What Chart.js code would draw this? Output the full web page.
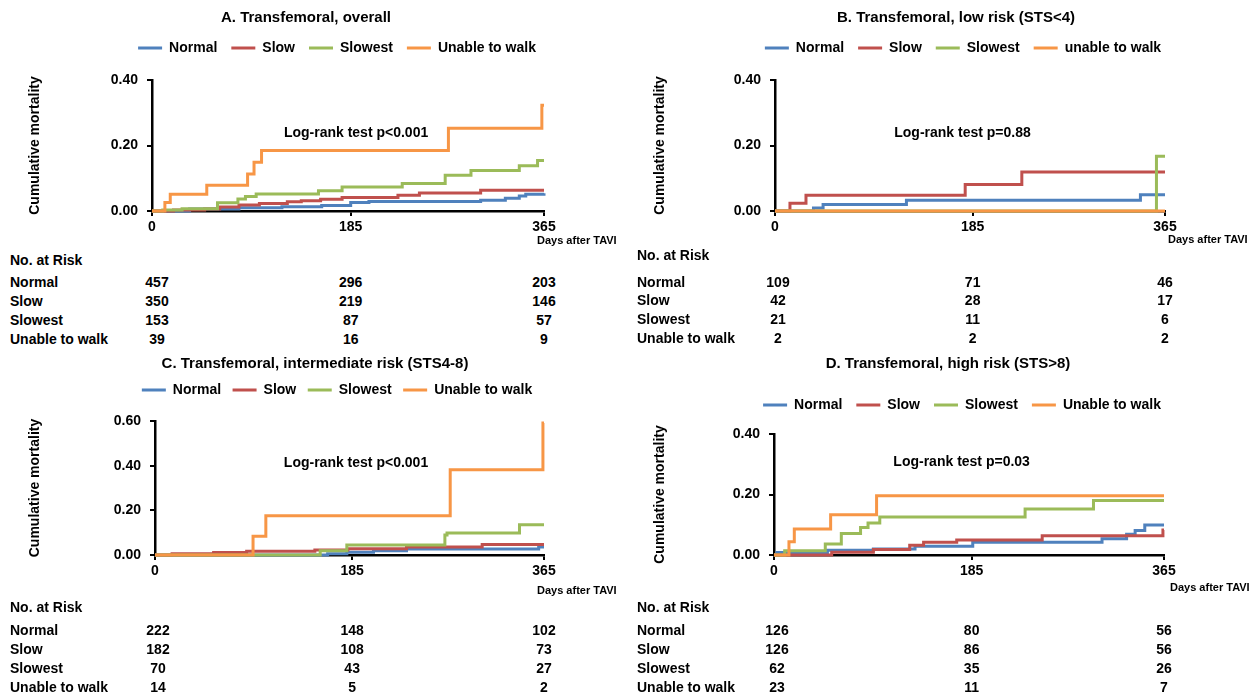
<!DOCTYPE html>
<html><head><meta charset="utf-8">
<script src="https://cdn.jsdelivr.net/npm/chart.js@4.4.1/dist/chart.umd.min.js"></script>
<style>
html,body{margin:0;padding:0;background:#fff;overflow:hidden;width:1255px;height:698px;}
#wrap{position:relative;width:1255px;height:698px;overflow:hidden;}
canvas{position:absolute;}
.t{position:absolute;font-family:"Liberation Sans",Arial,sans-serif;font-weight:bold;color:#000;white-space:nowrap;line-height:1;}
</style></head><body><div id="wrap"></div>
<script>
// ---------- DATA ----------
const xTickValues = [0, 185, 365];
const yTicksLow = [0, 0.2, 0.4];
const yTicksHigh = [0, 0.2, 0.4, 0.6];
const groupNames = ['Normal', 'Slow', 'Slowest', 'Unable to walk'];
const groupNamesB = ['Normal', 'Slow', 'Slowest', 'unable to walk'];

// Panel A: Transfemoral, overall (days after TAVI, cumulative mortality)
const A_normal_days  = [0, 35, 81, 121, 158, 185, 202, 306, 329, 342, 348, 365];
const A_normal_cm    = [0, 0.006, 0.010, 0.013, 0.017, 0.026, 0.029, 0.033, 0.039, 0.046, 0.051, 0.054];
const A_slow_days    = [0, 20, 49, 63, 81, 100, 126, 139, 157, 177, 229, 249, 306, 365];
const A_slow_cm      = [0, 0.003, 0.006, 0.012, 0.018, 0.023, 0.028, 0.031, 0.036, 0.041, 0.048, 0.055, 0.063, 0.063];
const A_slowest_days = [0, 10, 28, 61, 80, 87, 97, 155, 177, 233, 273, 297, 342, 359, 365];
const A_slowest_cm   = [0, 0.003, 0.007, 0.025, 0.037, 0.044, 0.052, 0.062, 0.073, 0.084, 0.109, 0.124, 0.138, 0.154, 0.154];
const A_unable_days  = [0, 12, 17, 51, 89, 95, 102, 276, 363, 365];
const A_unable_cm    = [0, 0.026, 0.051, 0.079, 0.113, 0.149, 0.185, 0.253, 0.323, 0.323];

// Panel B: low risk (STS<4)
const B_normal_days  = [0, 36, 45, 123, 342, 365];
const B_normal_cm    = [0, 0.009, 0.020, 0.033, 0.050, 0.050];
const B_slow_days    = [0, 14, 29, 178, 231, 365];
const B_slow_cm      = [0, 0.024, 0.048, 0.081, 0.119, 0.119];
const B_slowest_days = [0, 357, 365];
const B_slowest_cm   = [0, 0.167, 0.167];
const B_unable_days  = [0, 365];
const B_unable_cm    = [0, 0];

// Panel C: intermediate risk (STS4-8)
const C_normal_days  = [0, 162, 180, 205, 236, 360, 365];
const C_normal_cm    = [0, 0.006, 0.012, 0.019, 0.027, 0.036, 0.036];
const C_slow_days    = [0, 16, 55, 86, 150, 181, 236, 307, 365];
const C_slow_cm      = [0, 0.006, 0.011, 0.017, 0.022, 0.028, 0.036, 0.047, 0.047];
const C_slowest_days = [0, 155, 180, 272, 274, 342, 365];
const C_slowest_cm   = [0, 0.019, 0.045, 0.090, 0.099, 0.136, 0.136];
const C_unable_days  = [0, 92, 104, 277, 364, 365];
const C_unable_cm    = [0, 0.084, 0.176, 0.382, 0.591, 0.591];

// Panel D: high risk (STS>8)
const D_normal_days  = [0, 3, 50, 93, 132, 186, 307, 330, 338, 347, 365];
const D_normal_cm    = [0, 0.008, 0.016, 0.020, 0.029, 0.042, 0.054, 0.069, 0.081, 0.099, 0.099];
const D_slow_days    = [0, 54, 93, 127, 140, 171, 251, 364, 365];
const D_slow_cm      = [0, 0.009, 0.018, 0.032, 0.042, 0.050, 0.064, 0.083, 0.083];
const D_slowest_days = [0, 10, 48, 63, 81, 88, 99, 235, 299, 365];
const D_slowest_cm   = [0, 0.014, 0.036, 0.071, 0.091, 0.106, 0.126, 0.152, 0.180, 0.180];
const D_unable_days  = [0, 14, 19, 53, 96, 365];
const D_unable_cm    = [0, 0.044, 0.086, 0.133, 0.196, 0.196];

// Numbers at risk (rows: Normal, Slow, Slowest, Unable to walk; columns: day 0, 185, 365)
const riskA = [[457, 296, 203], [350, 219, 146], [153, 87, 57], [39, 16, 9]];
const riskB = [[109, 71, 46], [42, 28, 17], [21, 11, 6], [2, 2, 2]];
const riskC = [[222, 148, 102], [182, 108, 73], [70, 43, 27], [14, 5, 2]];
const riskD = [[126, 80, 56], [126, 86, 56], [62, 35, 26], [23, 11, 7]];

// ---------- STYLE / LAYOUT ----------
const FONT = '"Liberation Sans", Arial, sans-serif';
const COLORS = ['#4F81BD', '#C0504D', '#9BBB59', '#F79646'];
const wrap = document.getElementById('wrap');

function addText(text, x, y, size, align) {
  const d = document.createElement('div');
  d.className = 't';
  d.textContent = text;
  d.style.fontSize = size + 'px';
  d.style.top = (y - size / 2) + 'px';
  d.style.left = x + 'px';
  if (align === 'center') d.style.transform = 'translateX(-50%)';
  wrap.appendChild(d);
}

function makePanel(P) {
  const cv = document.createElement('canvas');
  cv.width = P.w; cv.height = P.h;
  cv.style.left = P.x + 'px'; cv.style.top = P.y + 'px';
  wrap.appendChild(cv);
  const titleCenter = P.titleY - P.y;
  const padTop = titleCenter - 7.5;
  const legP = P.legendPad;
  const tb = Math.max(0, (P.legendY - P.titleY) - 14.5 - legP);
  const sp = Math.max(0, P.chartTop - P.legendY - 17);
  const rightGap = P.w - (P.chartRight - P.x);
  const legendDx = P.legendCX - (P.x + P.w / 2);

  const datasets = P.series.map((s, i) => ({
    label: P.labels[i],
    data: s[0].map((d, k) => ({x: d, y: s[1][k]})),
    borderColor: COLORS[i], backgroundColor: COLORS[i],
    borderWidth: 3, pointRadius: 0, pointHoverRadius: 0,
    stepped: true, fill: false, clip: false, order: 3 - i,
    xAxisID: 'x', yAxisID: 'y'
  }));

  const extras = {
    id: 'extras' + P.name,
    afterLayout(chart) {
      const lg = chart.legend;
      if (lg) { lg.left += legendDx; lg.right += legendDx; }
    },
    afterDatasetsDraw(chart) {
      const ctx = chart.ctx, xs = chart.scales.x, ys = chart.scales.y;
      ctx.save();
      ctx.fillStyle = '#000';
      ctx.textBaseline = 'middle';
      ctx.font = 'bold 14px ' + FONT;
      ctx.textAlign = 'center';
      ctx.fillText(P.note, xs.getPixelForValue(P.noteAt[0]), ys.getPixelForValue(P.noteAt[1]));
      ctx.font = 'bold 11px ' + FONT;
      ctx.textAlign = 'left';
      ctx.fillText('Days after TAVI', xs.getPixelForValue(365) + P.daysDx, P.daysY - P.y);
      ctx.restore();
    }
  };

  const chart = new Chart(cv, {
    type: 'line',
    data: {datasets},
    options: {
      responsive: false, animation: false, devicePixelRatio: 1,
      events: [],
      layout: {padding: 0},
      plugins: {
        title: {display: true, text: P.title, color: '#000',
          font: {family: FONT, size: 15, weight: 'bold', lineHeight: 1},
          padding: {top: padTop, bottom: tb}},
        legend: {display: true, position: 'top', fullSize: true, align: 'center',
          labels: {usePointStyle: true, pointStyle: 'line', pointStyleWidth: 24, color: '#000',
            font: {family: FONT, size: 14, weight: 'bold'}, padding: legP,
            sort: (a, b) => a.datasetIndex - b.datasetIndex}},
        tooltip: {enabled: false}
      },
      scales: {
        x: {type: 'linear', position: 'bottom', min: 0, max: 365,
          afterBuildTicks: sc => { sc.ticks = xTickValues.map(v => ({value: v})); },
          afterFit: sc => { sc.height = P.h - (P.chartBottom - P.y); },
          grid: {display: true, drawOnChartArea: false, drawTicks: true, tickLength: 5, color: '#000', lineWidth: 2},
          border: {display: true, color: '#000', width: 2.5},
          ticks: {color: '#000', font: {family: FONT, size: 14, weight: 'bold'}, padding: 3,
            maxRotation: 0, autoSkip: false, callback: v => String(v)}},
        spacerTop: {type: 'linear', axis: 'x', position: 'top', display: true,
          grid: {display: false}, border: {display: false}, ticks: {display: false},
          afterFit: sc => { sc.height = sp; }},
        spacerRight: {type: 'linear', axis: 'y', position: 'right', display: true,
          grid: {display: false}, border: {display: false}, ticks: {display: false},
          afterFit: sc => { sc.width = rightGap; }},
        y: {type: 'linear', position: 'left', min: 0, max: P.yTicks[P.yTicks.length - 1],
          afterBuildTicks: sc => { sc.ticks = P.yTicks.map(v => ({value: v})); },
          afterFit: sc => { sc.width = P.chartLeft - P.x; },
          grid: {display: true, drawOnChartArea: false, drawTicks: true, tickLength: 5, color: '#000', lineWidth: 2},
          border: {display: true, color: '#000', width: 2.5},
          ticks: {color: '#000', font: {family: FONT, size: 14, weight: 'bold'}, padding: 9,
            callback: v => Number(v).toFixed(2)},
          title: {display: true, text: 'Cumulative mortality', color: '#000',
            font: {family: FONT, size: 14, weight: 'bold', lineHeight: 1.2},
            padding: {top: P.yTitleX - P.x - 8.4, bottom: 0}}}
      }
    },
    plugins: [extras]
  });

  // number-at-risk table
  const T = P.table;
  addText('No. at Risk', T.x, T.headY, 14, 'left');
  T.rowY.forEach((ry, r) => {
    addText(groupNames[r], T.x, ry, 14, 'left');
    xTickValues.forEach((v, c) => {
      const px = P.x + chart.scales.x.getPixelForValue(v) + T.colDx[c];
      addText(String(P.risk[r][c]), px, ry, 14, 'center');
    });
  });
}

const panels = [
  {name: 'A', title: 'A. Transfemoral, overall', labels: groupNames,
   series: [[A_normal_days, A_normal_cm], [A_slow_days, A_slow_cm], [A_slowest_days, A_slowest_cm], [A_unable_days, A_unable_cm]],
   risk: riskA, yTicks: yTicksLow, note: 'Log-rank test p<0.001', noteAt: [190, 0.237],
   x: -30, y: 0, w: 672, h: 250, chartLeft: 152, chartRight: 544, chartTop: 80, chartBottom: 211,
   titleY: 18, legendY: 48, legendPad: 14, legendCX: 337, yTitleX: 35, daysY: 241, daysDx: -7,
   table: {x: 10, headY: 260, rowY: [282, 301, 320, 339], colDx: [5, 0, 0]}},
  {name: 'B', title: 'B. Transfemoral, low risk (STS<4)', labels: groupNamesB,
   series: [[B_normal_days, B_normal_cm], [B_slow_days, B_slow_cm], [B_slowest_days, B_slowest_cm], [B_unable_days, B_unable_cm]],
   risk: riskB, yTicks: yTicksLow, note: 'Log-rank test p=0.88', noteAt: [175.5, 0.237],
   x: 650, y: 0, w: 612, h: 250, chartLeft: 775, chartRight: 1165, chartTop: 80, chartBottom: 211,
   titleY: 18, legendY: 48, legendPad: 14, legendCX: 963, yTitleX: 660, daysY: 240, daysDx: 3,
   table: {x: 637, headY: 255, rowY: [282, 300, 319, 338], colDx: [3, 0, 0]}},
  {name: 'C', title: 'C. Transfemoral, intermediate risk (STS4-8)', labels: groupNames,
   series: [[C_normal_days, C_normal_cm], [C_slow_days, C_slow_cm], [C_slowest_days, C_slowest_cm], [C_unable_days, C_unable_cm]],
   risk: riskC, yTicks: yTicksHigh, note: 'Log-rank test p<0.001', noteAt: [188.6, 0.413],
   x: -30, y: 346, w: 690, h: 255, chartLeft: 155, chartRight: 544, chartTop: 421, chartBottom: 555,
   titleY: 364, legendY: 390, legendPad: 11.5, legendCX: 337, yTitleX: 35, daysY: 591, daysDx: -7,
   table: {x: 10, headY: 607, rowY: [630, 649, 668, 687], colDx: [3, 0, 0]}},
  {name: 'D', title: 'D. Transfemoral, high risk (STS>8)', labels: groupNames,
   series: [[D_normal_days, D_normal_cm], [D_slow_days, D_slow_cm], [D_slowest_days, D_slowest_cm], [D_unable_days, D_unable_cm]],
   risk: riskD, yTicks: yTicksLow, note: 'Log-rank test p=0.03', noteAt: [175.6, 0.306],
   x: 640, y: 346, w: 616, h: 255, chartLeft: 774, chartRight: 1164, chartTop: 434, chartBottom: 555,
   titleY: 364, legendY: 405, legendPad: 14, legendCX: 962, yTitleX: 660, daysY: 588, daysDx: 6,
   table: {x: 637, headY: 607, rowY: [630, 649, 668, 687], colDx: [3, 0, 0]}}
];

panels.forEach(makePanel);
</script>
</body></html>
